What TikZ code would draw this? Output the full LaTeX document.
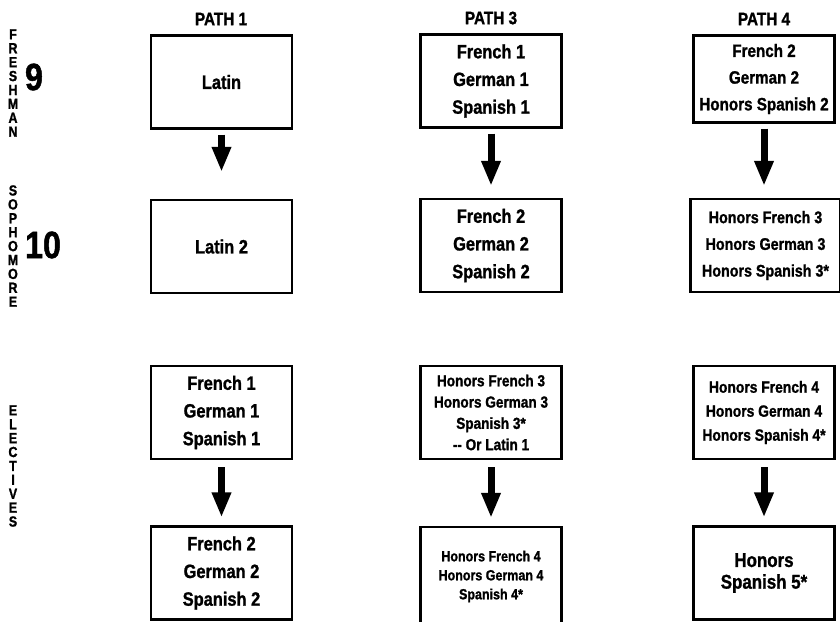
\documentclass[tikz,border=0pt]{standalone}
\usepackage{fontspec}
\setmainfont{Liberation Sans}[FakeStretch=0.85, BoldFeatures={FakeBold=1.2}]
\usetikzlibrary{positioning,arrows.meta}

\begin{document}
\begin{tikzpicture}[x=1pt,y=-1pt,
    box/.style={draw, line width=2.2pt, align=center, inner sep=0pt,
      minimum width=141pt, minimum height=93pt,
      font=\bfseries\fontsize{19.3}{27.7}\selectfont},
    flow/.style={line width=7pt, -{Triangle[width=18pt,length=25pt]},
      shorten <=5pt},
    pathlabel/.style={font=\bfseries\fontsize{18}{20}\selectfont},
    year/.style={font=\bfseries\fontsize{38}{40}\selectfont},
    vword/.style={align=center, inner sep=0pt,
      font=\bfseries\fontsize{14.7}{13.9}\selectfont}]

  \useasboundingbox (0,0) rectangle (840,621);

  % left side: years
  \node (fresh) [vword] at (13,83) {F\\R\\E\\S\\H\\M\\A\\N};
  \node (soph) [vword] at (13,246) {S\\O\\P\\H\\O\\M\\O\\R\\E};
  \node (elec) [vword] at (13,466) {E\\L\\E\\C\\T\\I\\V\\E\\S};
  \node (nine) [year] at (34,77) {9};
  \node (ten) [year] at (43,245) {10};

  % column headings
  \node (path1) [pathlabel] at (221,19) {PATH 1};
  \node (path3) [pathlabel] at (491,18) {PATH 3};
  \node (path4) [pathlabel] at (764,19) {PATH 4};

  % path 1
  \node (p1top) [box] at (221.5,82) {Latin};
  \node (p1mid) [box] at (221.5,246.5) {Latin 2};
  \node (p1el) [box] at (221.5,412.5) {French 1\\German 1\\Spanish 1};
  \node (p1el2) [box] at (221.5,573) {French 2\\German 2\\Spanish 2};

  % path 3
  \node (p3top) [box] at (491,81) {French 1\\German 1\\Spanish 1};
  \node (p3mid) [box] at (491,245.5) {French 2\\German 2\\Spanish 2};
  \node (p3el) [box, font=\bfseries\fontsize{16}{21.3}\selectfont] at (491,412.5)
    {Honors French 3\\Honors German 3\\Spanish 3*\\-{}- Or Latin 1};
  \node (p3el2) [box, minimum height=99pt, font=\bfseries\fontsize{14.7}{19}\selectfont] at (491,576.5)
    {Honors French 4\\Honors German 4\\Spanish 4*};

  % path 4
  \node (p4top) [box, minimum height=87pt, font=\bfseries\fontsize{17.9}{26.7}\selectfont] at (764,79)
    {French 2\\German 2\\Honors Spanish 2};
  \node (p4mid) [box, minimum width=150pt, font=\bfseries\fontsize{16.8}{26.7}\selectfont] at (765.5,245.5)
    {Honors French 3\\Honors German 3\\Honors Spanish 3*};
  \node (p4el) [box, font=\bfseries\fontsize{16.3}{24}\selectfont] at (764,412.5)
    {Honors French 4\\Honors German 4\\Honors Spanish 4*};
  \node (p4el2) [box, font=\bfseries\fontsize{19.9}{21.7}\selectfont] at (764,573)
    {Honors\\Spanish 5*};

  % arrows
  \draw[flow, shorten >=27pt] (p1top.south) -- (p1mid.north);
  \draw[flow, shorten >=12pt] (p3top.south) -- (p3mid.north);
  \draw[flow, shorten >=12pt] (p4top.south) -- (p4top.south |- p4mid.north);
  \draw[flow, shorten <=7pt, shorten >=8pt] (p1el.south) -- (p1el2.north);
  \draw[flow, shorten <=7pt, shorten >=8pt] (p3el.south) -- (p3el2.north);
  \draw[flow, shorten <=7pt, shorten >=8pt] (p4el.south) -- (p4el2.north);
\end{tikzpicture}
\end{document}
